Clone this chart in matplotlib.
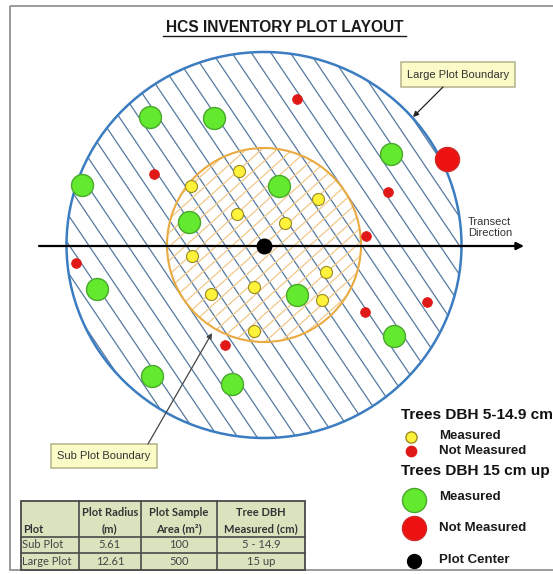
import matplotlib
matplotlib.use('Agg')
import matplotlib.pyplot as plt
from matplotlib.patches import Ellipse, Rectangle
from matplotlib.collections import LineCollection
import numpy as np

# ---------------- data ----------------
title = "HCS INVENTORY PLOT LAYOUT"

# tree positions (image units, y downward)
large_measured_x = [150, 214, 82, 391, 279, 189, 97, 297, 394, 152, 232]
large_measured_y = [117, 118, 185, 154, 186, 222, 289, 295, 336, 376, 384]
large_notmeas_x = [447]
large_notmeas_y = [159]
small_measured_x = [239, 191, 237, 318, 285, 192, 211, 254, 254, 326, 322]
small_measured_y = [171, 186, 214, 199, 223, 256, 294, 287, 331, 272, 300]
small_notmeas_x = [297, 154, 388, 366, 76, 225, 365, 427]
small_notmeas_y = [99, 174, 192, 236, 263, 345, 312, 302]
plot_center = (264, 246)

legend_head1 = "Trees DBH 5-14.9 cm"
legend_head2 = "Trees DBH 15 cm up"
legend_labels = ["Measured", "Not Measured", "Measured", "Not Measured", "Plot Center"]

table_head1 = ["", "Plot Radius", "Plot Sample", "Tree DBH"]
table_head2 = ["Plot", "(m)", "Area (m\u00b2)", "Measured (cm)"]
table_rows = [["Sub Plot", "5.61", "100", "5 - 14.9"],
              ["Large Plot", "12.61", "500", "15 up"]]

# ---------------- figure ----------------
W, H = 553, 574
fig = plt.figure(figsize=(W / 100, H / 100), dpi=100)
ax = fig.add_axes([0, 0, 1, 1])
ax.set_xlim(0, W)
ax.set_ylim(H, 0)
ax.axis('off')

ARIAL = ['Liberation Sans', 'DejaVu Sans']
CALI = ['Lato', 'DejaVu Sans']

# frame
ax.add_patch(Rectangle((10, 6), 700, 564, fill=False, edgecolor='#8a8a8a', lw=1.2, zorder=1))

# title
ax.text(284.5, 27.5, title, ha='center', va='center', fontsize=11.2, fontweight='bold',
        family=ARIAL, color='#1a1a1a')
ax.plot([163, 406], [35.5, 35.5], color='#1a1a1a', lw=1.0)


def hatch(patch, angle_deg, spacing, color, lw, z):
    a = np.deg2rad(angle_deg)
    d = np.array([np.cos(a), np.sin(a)])
    cx, cy = patch.center
    segs = []
    for k in range(-40, 41):
        p = np.array([cx + k * spacing, cy])
        segs.append([p - 700 * d, p + 700 * d])
    lc = LineCollection(segs, colors=color, linewidths=lw, zorder=z)
    ax.add_collection(lc)
    lc.set_clip_path(patch)


# large plot
large = Ellipse((264, 245), 395, 386, fill=False, edgecolor='#3b7dc0', lw=1.8, zorder=5)
ax.add_patch(large)
large_clip = Ellipse((264, 245), 395, 386, fill=False, edgecolor='none')
ax.add_patch(large_clip)
hatch(large_clip, 56, 19.5, '#55799f', 0.9, 2)

# sub plot
sub = Ellipse((264, 245), 194, 194, fill=False, edgecolor='#e9aa40', lw=1.5, zorder=4)
ax.add_patch(sub)
sub_clip = Ellipse((264, 245), 194, 194, fill=False, edgecolor='none')
ax.add_patch(sub_clip)
hatch(sub_clip, -42, 15.5, '#f2c888', 0.9, 3)

# transect line
ax.annotate('', xy=(524, 246), xytext=(39, 246),
            arrowprops=dict(arrowstyle='-|>', lw=1.6, color='black', mutation_scale=11,
                            shrinkA=0, shrinkB=0), zorder=6)
ax.text(468, 227.5, "Transect\nDirection", ha='left', va='center', fontsize=8.0,
        family=ARIAL, color='#333333', linespacing=1.1, multialignment='left')

# trees
ax.scatter(large_measured_x, large_measured_y, s=250, c='#63e92e', edgecolors='#4aa82c',
           linewidths=1.0, zorder=8)
ax.scatter(large_notmeas_x, large_notmeas_y, s=300, c='#ee1111', edgecolors='#d02a2a',
           linewidths=1.0, zorder=8)
ax.scatter(small_measured_x, small_measured_y, s=75, c='#fff23a', edgecolors='#9a8a20',
           linewidths=0.8, zorder=8)
ax.scatter(small_notmeas_x, small_notmeas_y, s=50, c='#e01818', edgecolors='#e01818',
           linewidths=0.5, zorder=8)
ax.scatter([plot_center[0]], [plot_center[1]], s=110, c='black', zorder=9)

# annotation boxes
ax.add_patch(Rectangle((401, 62), 114, 25, facecolor='#fbfbc8', edgecolor='#b5b38c', lw=1.1, zorder=7))
ax.text(458, 74.5, "Large Plot Boundary", ha='center', va='center', fontsize=8,
        family=ARIAL, color='#333333', zorder=8)
ax.annotate('', xy=(413, 117), xytext=(443, 87),
            arrowprops=dict(arrowstyle='-|>', lw=0.9, color='#222222', mutation_scale=8,
                            shrinkA=0, shrinkB=0), zorder=7)

ax.add_patch(Rectangle((51, 444), 106, 24, facecolor='#fbfbc8', edgecolor='#b5b38c', lw=1.1, zorder=7))
ax.text(104, 456, "Sub Plot Boundary", ha='center', va='center', fontsize=8,
        family=ARIAL, color='#333333', zorder=8)
ax.annotate('', xy=(212, 333), xytext=(148, 444),
            arrowprops=dict(arrowstyle='-|>', lw=0.9, color='#444444', mutation_scale=8,
                            shrinkA=0, shrinkB=0), zorder=7)

# legend
ax.text(401, 415, legend_head1, ha='left', va='center', fontsize=11.1, fontweight='bold',
        family=ARIAL, color='#111111')
ax.text(401, 471, legend_head2, ha='left', va='center', fontsize=11.1, fontweight='bold',
        family=ARIAL, color='#111111')
leg_mark_x = [411, 411, 414, 414, 414]
leg_mark_y = [437, 451, 500, 528, 561]
leg_face = ['#fff23a', '#e01818', '#63e92e', '#ee1111', 'black']
leg_edge = ['#9a8a20', '#e01818', '#4aa82c', '#d02a2a', 'black']
leg_size = [65, 55, 300, 300, 100]
leg_text_y = [436, 451, 497, 528, 560]
for mx, my, fc, ec, sz, lab, ty in zip(leg_mark_x, leg_mark_y, leg_face, leg_edge,
                                        leg_size, legend_labels, leg_text_y):
    ax.scatter([mx], [my], s=sz, c=fc, edgecolors=ec, linewidths=1.0, zorder=8)
    ax.text(439, ty, lab, ha='left', va='center', fontsize=9.5, fontweight='bold',
            family=ARIAL, color='#1a1a1a')

# table
col_edges = [20.7, 79, 140.7, 216.7, 305]
row_edges = [500.7, 536.7, 553.3, 570]
ax.add_patch(Rectangle((col_edges[0], row_edges[0]), col_edges[-1] - col_edges[0],
                       row_edges[-1] - row_edges[0], facecolor='#d9e4bf', edgecolor='#4a4a4a',
                       lw=1.3, zorder=3))
for xe in col_edges[1:-1]:
    ax.plot([xe, xe], [row_edges[0], row_edges[-1]], color='#4a4a4a', lw=1.2, zorder=4)
for ye in row_edges[1:-1]:
    ax.plot([col_edges[0], col_edges[-1]], [ye, ye], color='#4a4a4a', lw=1.2, zorder=4)

FS = 8.0
for i in range(4):
    cx = (col_edges[i] + col_edges[i + 1]) / 2
    if i == 0:
        ax.text(col_edges[0] + 2.5, 529.5, table_head2[0], ha='left', va='center', fontsize=FS,
                fontweight='bold', family=CALI, color='#333333', zorder=5)
    else:
        ax.text(cx, 512, table_head1[i], ha='center', va='center', fontsize=FS,
                fontweight='bold', family=CALI, color='#333333', zorder=5)
        ax.text(cx, 529, table_head2[i], ha='center', va='center', fontsize=FS,
                fontweight='bold', family=CALI, color='#333333', zorder=5)
for r, row in enumerate(table_rows):
    cy = (row_edges[r + 1] + row_edges[r + 2]) / 2
    for i, val in enumerate(row):
        if i == 0:
            ax.text(col_edges[0] + 1.5, cy, val, ha='left', va='center', fontsize=FS,
                    family=CALI, color='#444444', zorder=5)
        else:
            cx = (col_edges[i] + col_edges[i + 1]) / 2
            ax.text(cx, cy, val, ha='center', va='center', fontsize=FS,
                    family=CALI, color='#444444', zorder=5)

fig.savefig('out.png', dpi=100)
